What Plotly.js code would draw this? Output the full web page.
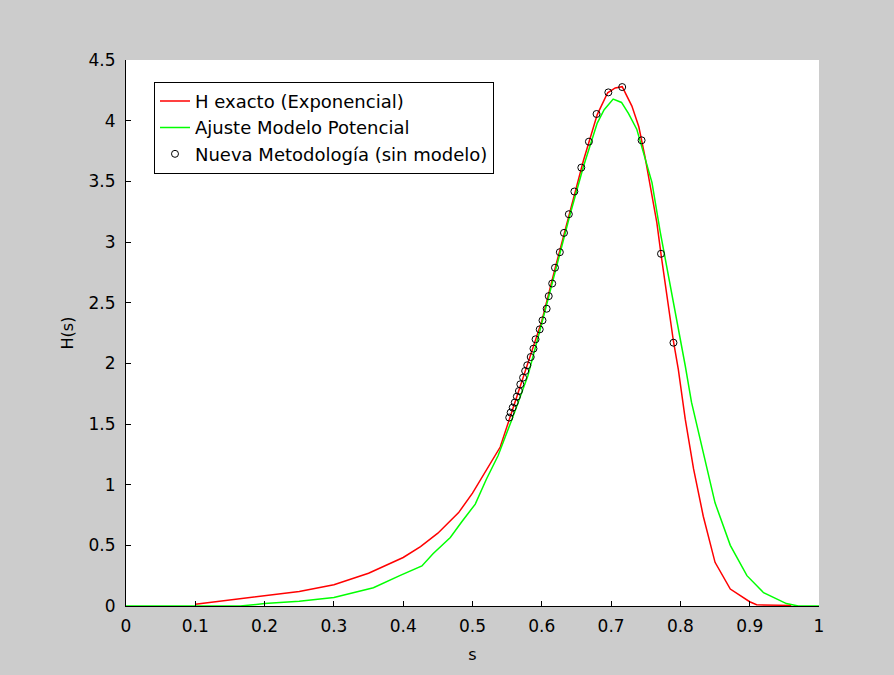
<!DOCTYPE html>
<html>
<head>
<meta charset="utf-8">
<script src="https://cdn.plot.ly/plotly-3.0.1.min.js"></script>
<style>html,body{margin:0;padding:0;background:#cccccc;}#chart{width:894px;height:675px;}</style>
</head>
<body>
<div id="chart"></div>
<script>
// H exacto (Exponencial)
const sExact = [0.1, 0.15, 0.2, 0.25, 0.3, 0.35, 0.4, 0.425, 0.45, 0.48, 0.5, 0.52, 0.54, 0.555, 0.575, 0.6, 0.62, 0.64, 0.66, 0.68, 0.695, 0.706, 0.716, 0.73, 0.74, 0.749, 0.756, 0.766, 0.772, 0.78, 0.79, 0.797, 0.807, 0.819, 0.833, 0.85, 0.872, 0.9, 0.91, 0.96];
const hExact = [0.015, 0.05, 0.085, 0.12, 0.175, 0.27, 0.4, 0.49, 0.6, 0.77, 0.93, 1.12, 1.31, 1.57, 1.92, 2.35, 2.8, 3.24, 3.67, 4.05, 4.23, 4.27, 4.28, 4.12, 3.95, 3.7, 3.49, 3.16, 2.9, 2.58, 2.18, 1.95, 1.54, 1.13, 0.74, 0.36, 0.14, 0.035, 0.01, 0.005];

// Ajuste Modelo Potencial
const sFit = [0, 0.1, 0.165, 0.2, 0.25, 0.3, 0.357, 0.395, 0.427, 0.443, 0.468, 0.484, 0.504, 0.52, 0.537, 0.557, 0.58, 0.6, 0.62, 0.64, 0.66, 0.68, 0.69, 0.703, 0.715, 0.725, 0.737, 0.744, 0.759, 0.771, 0.783, 0.795, 0.807, 0.816, 0.833, 0.85, 0.872, 0.896, 0.92, 0.953, 0.97, 1.0];
const hFit = [0, 0, 0.0, 0.02, 0.04, 0.07, 0.15, 0.25, 0.33, 0.43, 0.565, 0.69, 0.84, 1.045, 1.24, 1.54, 1.9, 2.33, 2.78, 3.21, 3.62, 3.98, 4.09, 4.178, 4.15, 4.06, 3.93, 3.79, 3.49, 3.08, 2.72, 2.33, 1.98, 1.68, 1.26, 0.85, 0.5, 0.25, 0.11, 0.02, 0.0, 0.0];

// Nueva Metodología (sin modelo)
const sNew = [0.553, 0.555, 0.558, 0.561, 0.564, 0.567, 0.569, 0.573, 0.576, 0.579, 0.584, 0.588, 0.591, 0.597, 0.601, 0.607, 0.610, 0.615, 0.619, 0.626, 0.632, 0.639, 0.647, 0.657, 0.668, 0.679, 0.696, 0.716, 0.744, 0.772, 0.790];
const hNew = [1.553, 1.594, 1.635, 1.677, 1.726, 1.772, 1.827, 1.882, 1.937, 1.984, 2.052, 2.121, 2.198, 2.28, 2.354, 2.45, 2.554, 2.658, 2.788, 2.916, 3.075, 3.229, 3.416, 3.613, 3.827, 4.055, 4.233, 4.277, 3.838, 2.903, 2.17];

const names = ['H exacto (Exponencial)', 'Ajuste Modelo Potencial', 'Nueva Metodología (sin modelo)'];

const FONT = 'DejaVu Sans, Liberation Sans, Arial, sans-serif';

const traces = [
  {x: sExact, y: hExact, name: names[0], mode: 'lines', line: {color: '#ff0000', width: 1.5}},
  {x: sFit, y: hFit, name: names[1], mode: 'lines', line: {color: '#00ff00', width: 1.5}},
  {x: sNew, y: hNew, name: names[2], mode: 'markers', marker: {symbol: 'circle-open', color: '#000000', size: 7, line: {width: 1, color: '#000000'}}}
];

const axisCommon = {
  showgrid: false, zeroline: false, showline: true, linecolor: '#000000', linewidth: 1,
  ticks: 'inside', ticklen: 5, tickwidth: 1, tickcolor: '#000000',
  tickfont: {family: FONT, size: 17, color: '#000000'}
};

const layout = {
  width: 894, height: 675,
  paper_bgcolor: '#cccccc', plot_bgcolor: '#ffffff',
  margin: {l: 126, r: 75, t: 60, b: 69},
  showlegend: true,
  xaxis: Object.assign({}, axisCommon, {range: [0, 1], dtick: 0.1, tick0: 0, ticklabelstandoff: 5,
    title: {text: 's', font: {family: FONT, size: 16, color: '#000000'}, standoff: 13}}),
  yaxis: Object.assign({}, axisCommon, {range: [0, 4.5], dtick: 0.5, tick0: 0, ticklabelstandoff: 6,
    title: {text: 'H(s)', font: {family: FONT, size: 16, color: '#000000'}, standoff: 10}}),
  legend: {x: 0.0404, y: 0.96, xanchor: 'left', yanchor: 'top',
    bgcolor: '#ffffff', bordercolor: '#000000', borderwidth: 1,
    font: {family: FONT, size: 18, color: '#000000'}, tracegroupgap: 0}
};

Plotly.newPlot('chart', traces, layout, {staticPlot: true});
</script>
</body>
</html>
